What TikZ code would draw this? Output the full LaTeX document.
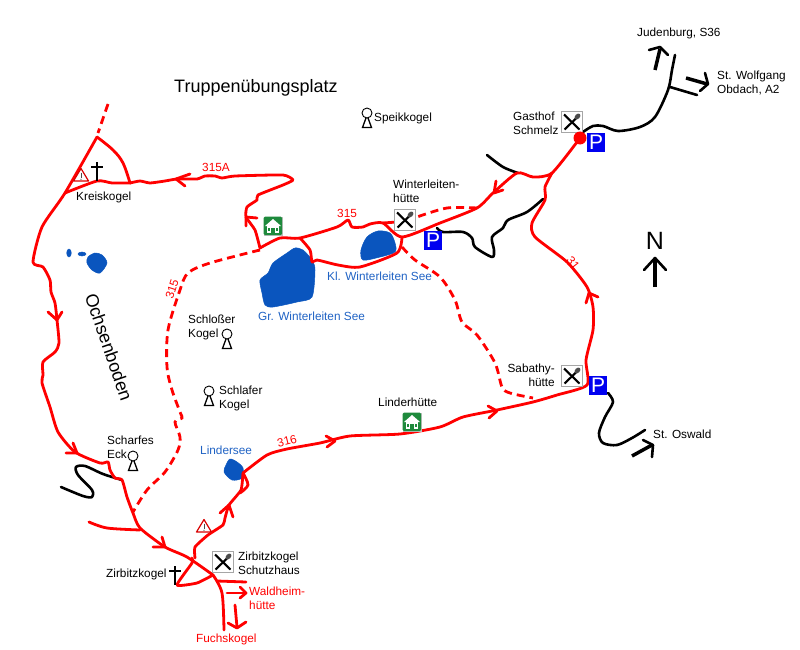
\documentclass[tikz,border=0pt]{standalone}
\usepackage{fontspec}
\setmainfont{Liberation Sans}
\definecolor{trail}{HTML}{FF0000}
\definecolor{lake}{HTML}{0A55BE}
\definecolor{laketext}{HTML}{1F62C4}
\definecolor{hutgreen}{HTML}{1E8A3C}
\definecolor{parkblue}{HTML}{0000F0}
\tikzset{
  trailline/.style={draw=trail,line width=2.8pt,line cap=round,line join=round},
  dashtrail/.style={draw=trail,line width=2.8pt,dash pattern=on 8pt off 5pt},
  roadline/.style={draw=black,line width=2.6pt,line cap=round,line join=round},
  dirarrow/.style={draw=black,line width=3.5pt},
  lakeshape/.style={fill=lake,draw=lake,line width=0.5pt},
  lbl/.style={font=\fontsize{11.8}{14}\selectfont,inner sep=0pt,anchor=west,align=left,text=black},
  redlbl/.style={lbl,text=trail},
  bluelbl/.style={lbl,text=laketext},
  parking/.style={fill=parkblue,text=white,minimum width=18pt,minimum height=19pt,inner sep=0pt,font=\fontsize{21}{21}\selectfont},
  pics/eatery/.style={code={
    \draw[fill=white,draw=black!35,line width=1.6pt] (-10.5,-10.5) rectangle (10.5,10.5);
    \draw[black,line width=2.1pt] (-8,-7.5) -- (7.5,7.5);
    \draw[black,line width=2.1pt] (-7.5,7.5) -- (5,-4.5);
    \fill[black!70] (5.5,-5.5) ellipse[x radius=2.4pt,y radius=3.4pt,rotate=-45];
  }},
  pics/hut/.style={code={
    \fill[black!25] (-8.7,-8.7) rectangle (10,10);
    \fill[hutgreen,rounded corners=1.5pt] (-9.5,-9.5) rectangle (9.2,9.2);
    \fill[white] (0,-7) -- (8,0) -- (-8,0) -- cycle;
    \fill[white] (-6,0) rectangle (6,7);
    \fill[hutgreen] (-2,2) rectangle (2,7);
    \fill[hutgreen] (-4.8,2) rectangle (-3.2,4.5);
    \fill[hutgreen] (3.2,2) rectangle (4.8,4.5);
  }},
  pics/summit/.style={code={
    \draw[black,fill=white,line width=0.9pt] (0,0) circle[radius=5pt];
    \draw[black,line width=1.3pt] (-1,5) -- (-4.5,14.5) -- (4.5,14.5) -- (1,5);
  }},
  pics/warning/.style={code={
    \draw[draw=trail!85!black,fill=white,line width=1.2pt,line join=round] (0,-6.5) -- (7.5,6) -- (-7.5,6) -- cycle;
    \draw[black!70,line width=0.9pt] (0,-2.5) -- (0,2.5);
    \fill[black!70] (0,4.2) circle[radius=0.6pt];
  }},
  pics/gravecross/.style={code={
    \draw[black,line width=1.3pt] (0,-10) -- (0,9);
    \draw[black,line width=1.3pt] (-6,-5) -- (6,-5);
  }},
}
\begin{document}
\begin{tikzpicture}[x=1pt,y=-1pt]
\useasboundingbox (0,0) rectangle (800,650);

% lakes
\fill[lakeshape] plot[smooth cycle,tension=0.45] coordinates {(295,248) (303,250) (312,260) (315,270) (312,297) (297,302) (273,307) (265,305) (262,293) (260,280) (268,273) (273,263) (287,253)};
\fill[lakeshape] plot[smooth cycle,tension=0.5] coordinates {(378,231) (390,233) (395,243) (395,252) (380,257) (363,260) (361,250) (367,237)};
\fill[lakeshape] plot[smooth cycle,tension=0.5] coordinates {(230,459) (237,462) (243,468) (242,478) (232,480) (224,472) (226,465)};
\fill[lakeshape] plot[smooth cycle,tension=0.5] coordinates {(88,257) (95,253) (102,255) (107,263) (100,273) (92,270) (87,263)};
\fill[lakeshape] (69,253) ellipse[x radius=2.3pt,y radius=4pt];
\fill[lakeshape] (82,254) ellipse[x radius=4pt,y radius=2pt];

% black roads
\draw[roadline] plot[smooth,tension=0.5] coordinates {(122,480) (103,474) (85,466) (76,467) (78,475) (92,490) (92,497) (83,496) (61,487)};
\draw[roadline] plot[smooth,tension=0.5] coordinates {(437,228) (443,232) (463,232) (472,238) (475,247) (492,257) (494,250) (492,237) (503,228) (508,220) (527,212) (543,199)};
\draw[roadline] plot[smooth,tension=0.5] coordinates {(487,155) (503,167) (518,173)};
\draw[roadline] plot[smooth,tension=0.5] coordinates {(583,132) (593,126) (603,126) (618,131) (640,127) (655,117) (668,90) (672,70) (675,55)};
\draw[roadline] (670,87) -- (697,95);
\draw[roadline] plot[smooth,tension=0.5] coordinates {(608,393) (613,402) (605,417) (599,433) (603,443) (617,445) (632,438) (645,430)};

% direction arrows
\draw[dirarrow] (655,70) -- (660,49);
\draw[roadline] (649,50) -- (660,47) -- (668,55);
\draw[dirarrow] (686,78) -- (707,84);
\draw[roadline] (705,73) -- (708,84) -- (700,91);
\draw[dirarrow] (632,456) -- (652,445);
\draw[roadline] (643,440) -- (653,445) -- (652,457);
\draw[draw=black,line width=4pt] (655,287) -- (655,260);
\draw[roadline] (644,270) -- (655,258) -- (666,270);

% red trails: north-west loop
\draw[dashtrail] (108,104) -- (98,133);
\draw[trailline] plot[smooth,tension=0.4] coordinates {(97,137) (65,193) (42,227) (33,262) (43,267) (50,280) (51,292) (55,303) (57,320) (59,343) (55,352) (43,362) (43,375) (42,383) (50,407) (58,432) (75,452) (100,463) (108,462) (110,470) (115,478) (122,480) (127,497) (133,513) (140,528) (165,547) (187,557) (213,575)};
\draw[trailline] plot[smooth,tension=0.6] coordinates {(97,137) (113,150) (123,163) (130,183)};
\draw[trailline] plot[smooth,tension=0.4] coordinates {(65,193) (97,181) (112,183) (130,183)};
\draw[trailline] plot[smooth,tension=0.3] coordinates {(130,183) (140,181) (150,183) (165,181) (177,179) (197,179) (205,176) (215,176) (222,178) (235,176) (283,175) (293,180) (283,185) (258,195) (257,200) (247,207) (246,217) (255,230) (260,248)};

% 315 main and junctions
\draw[trailline] plot[smooth,tension=0.4] coordinates {(260,248) (280,238) (300,238) (337,227) (348,220) (352,227) (363,227) (370,224) (383,223) (402,237) (440,223) (477,208) (493,193) (517,173) (533,177) (552,173) (580,138)};
\draw[trailline] (383,223) -- (397,222);
\draw[trailline] plot[smooth,tension=0.4] coordinates {(402,237) (397,253) (360,267) (338,265) (317,260) (312,262) (310,250) (300,238)};
\draw[dashtrail] plot[smooth,tension=0.5] coordinates {(477,208) (447,208) (417,217)};
\draw[dashtrail] plot[smooth,tension=0.5] coordinates {(402,247) (415,260) (440,277) (455,300) (462,322) (477,335) (495,363) (502,387) (510,393) (533,398)};
\draw[dashtrail] plot[smooth,tension=0.5] coordinates {(260,250) (210,263) (188,273) (180,290) (168,330) (167,367) (172,390) (180,412) (182,418) (175,422) (180,437) (178,450) (165,472) (147,490) (133,512)};

% 31 and 316
\draw[trailline] plot[smooth,tension=0.4] coordinates {(552,173) (545,187) (545,200) (532,223) (535,237) (567,262) (587,287) (593,307) (593,330) (586,360) (587,385) (557,395) (533,402) (497,410) (463,417) (440,427) (400,434) (350,436) (320,443) (287,449) (267,455) (243,473)};
\draw[trailline] plot[smooth,tension=0.5] coordinates {(243,473) (248,485) (240,493)};
\draw[trailline] plot[smooth,tension=0.3] coordinates {(243,473) (241,490) (229,505) (225,518) (223,525) (208,535) (195,547) (195,558)};

% west spur and Zirbitz summit triangle
\draw[trailline] plot[smooth,tension=0.5] coordinates {(89,522) (107,528) (140,530)};
\draw[trailline] plot[smooth,tension=0.3] coordinates {(192,558) (192,563) (177,585) (197,583) (213,575)};
\draw[trailline] plot[smooth,tension=0.5] coordinates {(213,575) (222,593) (224,630)};
\draw[trailline] (217,581) -- (246,582);

% red arrows
\draw[trailline] (176,179) -- (190,174) (176,179) -- (185,186);
\draw[trailline] (246,217) -- (257,218) (246,217) -- (246,226);
\draw[trailline] (494,193) -- (503,190) (494,193) -- (496,181) ;
\draw[trailline] (589,293) -- (598,297) (589,293) -- (586,303);
\draw[trailline] (497,411) -- (488,406) (497,411) -- (489,418);
\draw[trailline] (335,441) -- (326,436) (335,441) -- (327,447);
\draw[trailline] (229,505) -- (220,513) (229,505) -- (233,517);
\draw[trailline] (77,453) -- (66,453) (77,453) -- (73,443);
\draw[trailline] (57,320) -- (48,312) (57,320) -- (62,312);
\draw[trailline] (165,547) -- (153,547) (165,547) -- (162,537);
\draw[trailline] (227,593) -- (245,593);
\draw[trailline] (240,587) -- (246,593) -- (240,598);
\draw[trailline] (235,605) -- (237,627);
\draw[trailline] (228,623) -- (237,628) -- (246,622);

% icons
\pic at (572,122) {eatery};
\pic at (405,220) {eatery};
\pic at (572,376) {eatery};
\pic at (223,562) {eatery};
\node[parking] (p1) at (596,142.5) {P};
\node[parking] (p2) at (433,240) {P};
\node[parking] (p3) at (598,385) {P};
\fill[trail] (580,138) circle[radius=6.5pt];
\pic at (273,226) {hut};
\pic at (412,422) {hut};
\pic at (81,175) {warning};
\pic at (204,526) {warning};
\pic at (367,113) {summit};
\pic at (227,334) {summit};
\pic at (209,391) {summit};
\pic at (133,456) {summit};
\pic at (97,172) {gravecross};
\pic at (175,576) {gravecross};

% labels
\node[lbl,font=\fontsize{18}{20}\selectfont] (t1) at (174,88) {Truppenübungsplatz};
\node[lbl,font=\fontsize{18}{20}\selectfont,anchor=center,rotate=-71] (t2) at (109,347) {Ochsenboden};
\node[lbl,font=\fontsize{25}{25}\selectfont,anchor=center] (tn) at (655,241) {N};
\node[lbl] (t3) at (76,197) {Kreiskogel};
\node[redlbl] (t4) at (202,167) {315A};
\node[redlbl] (t5) at (337,213) {315};
\node[redlbl,anchor=center,rotate=72] (t6) at (172,289) {315};
\node[redlbl,anchor=center,rotate=-52] (t7) at (573,263) {31};
\node[redlbl,anchor=center,rotate=14] (t8) at (287,441) {316};
\node[lbl] (t9) at (393,191) {Winterleiten-\\hütte};
\node[lbl] (t10) at (374,118) {Speikkogel};
\node[lbl] (t11) at (513,123) {Gasthof\\Schmelz};
\node[bluelbl] (t12) at (327,276) {Kl. Winterleiten See};
\node[bluelbl] (t13) at (258,316) {Gr. Winterleiten See};
\node[lbl] (t14) at (188,327) {Schloßer\\Kogel};
\node[lbl] (t15) at (219,398) {Schlafer\\Kogel};
\node[lbl] (t16) at (378,402) {Linderhütte};
\node[lbl,anchor=east,align=right] (t17) at (555,375) {Sabathy-\\hütte};
\node[lbl] (t18) at (653,434) {St. Oswald};
\node[lbl] (t19) at (637,33) {Judenburg, S36};
\node[lbl] (t20) at (717,83) {St. Wolfgang\\Obdach, A2};
\node[bluelbl] (t21) at (200,450) {Lindersee};
\node[lbl] (t22) at (107,447) {Scharfes\\Eck};
\node[lbl] (t23) at (106,574) {Zirbitzkogel};
\node[lbl] (t24) at (238,563) {Zirbitzkogel\\Schutzhaus};
\node[redlbl] (t25) at (249,598) {Waldheim-\\hütte};
\node[redlbl] (t26) at (196,639) {Fuchskogel};
\end{tikzpicture}
\end{document}
